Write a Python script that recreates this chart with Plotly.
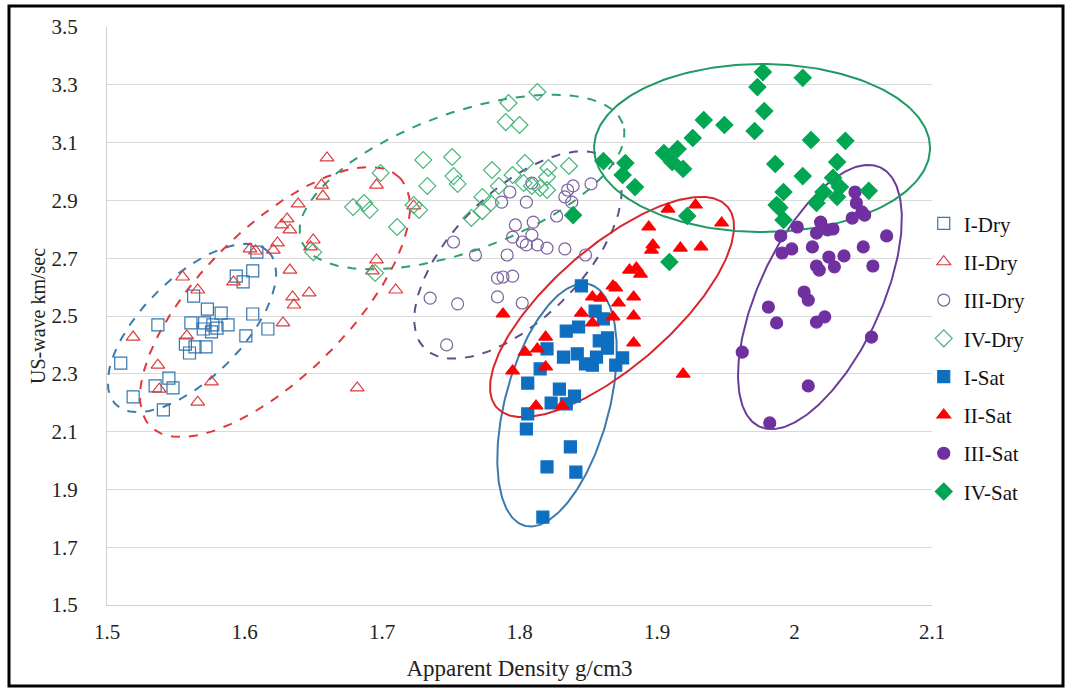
import numpy as np
import plotly.graph_objects as go

# ---------------- data ----------------
i_dry_x = [1.609, 1.606, 1.594, 1.599, 1.563, 1.573, 1.583, 1.606, 1.537, 1.561, 1.571, 1.577, 1.588, 1.570,
           1.576, 1.580, 1.617, 1.601, 1.557, 1.564, 1.572, 1.560, 1.510, 1.545, 1.535, 1.548, 1.519, 1.541]
i_dry_y = [2.721, 2.656, 2.638, 2.618, 2.569, 2.524, 2.510, 2.507, 2.469, 2.476, 2.476, 2.469, 2.469, 2.455,
           2.445, 2.458, 2.455, 2.431, 2.403, 2.393, 2.393, 2.372, 2.337, 2.285, 2.258, 2.251, 2.220, 2.175]

ii_dry_x = [1.660, 1.656, 1.657, 1.696, 1.639, 1.631, 1.627, 1.633, 1.624, 1.621, 1.604, 1.608, 1.650, 1.648,
            1.633, 1.647, 1.635, 1.636, 1.592, 1.555, 1.566, 1.628, 1.558, 1.519, 1.537, 1.538, 1.576, 1.566,
            1.696, 1.693, 1.710, 1.682, 1.723]
ii_dry_y = [3.047, 2.953, 2.915, 2.953, 2.888, 2.836, 2.815, 2.798, 2.753, 2.728, 2.732, 2.725, 2.763, 2.739,
            2.659, 2.580, 2.566, 2.538, 2.618, 2.635, 2.590, 2.476, 2.431, 2.427, 2.330, 2.247, 2.272, 2.202,
            2.694, 2.656, 2.590, 2.251, 2.881]

iii_dry_x = [1.752, 1.768, 1.735, 1.755, 1.747, 1.839, 1.852, 1.833, 1.838, 1.835, 1.809, 1.805, 1.793, 1.787,
             1.810, 1.797, 1.795, 1.802, 1.809, 1.805, 1.813, 1.820, 1.827, 1.833, 1.848, 1.791, 1.788, 1.795,
             1.784, 1.784, 1.802]
iii_dry_y = [2.756, 2.711, 2.562, 2.542, 2.400, 2.950, 2.957, 2.912, 2.894, 2.936, 2.960, 2.894, 2.929, 2.894,
             2.825, 2.815, 2.773, 2.756, 2.780, 2.746, 2.746, 2.735, 2.846, 2.732, 2.711, 2.711, 2.635, 2.638,
             2.631, 2.566, 2.545]

iv_dry_x = [1.813, 1.792, 1.790, 1.800, 1.730, 1.751, 1.752, 1.755, 1.733, 1.780, 1.773, 1.679, 1.687, 1.691,
            1.699, 1.711, 1.723, 1.727, 1.765, 1.773, 1.650, 1.695, 1.804, 1.795, 1.785, 1.779, 1.821, 1.820,
            1.836, 1.803, 1.815, 1.820, 1.809]
iv_dry_y = [3.275, 3.237, 3.171, 3.161, 3.040, 3.050, 2.984, 2.957, 2.950, 3.005, 2.912, 2.877, 2.891, 2.867,
            2.995, 2.808, 2.884, 2.867, 2.839, 2.863, 2.721, 2.649, 3.029, 2.988, 2.950, 2.891, 3.012, 2.981,
            3.019, 2.960, 2.943, 2.936, 2.950]

i_sat_x = [1.845, 1.855, 1.861, 1.843, 1.834, 1.820, 1.858, 1.864, 1.864, 1.832, 1.842, 1.848, 1.853, 1.856,
           1.870, 1.875, 1.815, 1.806, 1.829, 1.840, 1.823, 1.834, 1.806, 1.805, 1.837, 1.820, 1.841, 1.817]
i_sat_y = [2.604, 2.517, 2.490, 2.462, 2.448, 2.386, 2.414, 2.424, 2.389, 2.358, 2.369, 2.334, 2.330, 2.358,
           2.330, 2.355, 2.317, 2.268, 2.247, 2.223, 2.199, 2.196, 2.161, 2.109, 2.047, 1.978, 1.960, 1.804]

ii_sat_x = [1.908, 1.928, 1.947, 1.894, 1.897, 1.896, 1.917, 1.932, 1.880, 1.885, 1.888, 1.868, 1.870, 1.853,
            1.859, 1.872, 1.883, 1.868, 1.883, 1.853, 1.845, 1.883, 1.919, 1.788, 1.819, 1.804, 1.813, 1.819,
            1.795, 1.812, 1.831]
ii_sat_y = [2.870, 2.884, 2.822, 2.808, 2.746, 2.728, 2.735, 2.739, 2.659, 2.666, 2.645, 2.604, 2.597, 2.566,
            2.562, 2.545, 2.566, 2.497, 2.500, 2.476, 2.510, 2.407, 2.299, 2.507, 2.427, 2.375, 2.386, 2.324,
            2.310, 2.189, 2.189]

iii_sat_x = [2.044, 2.045, 2.049, 2.051, 2.042, 2.019, 2.016, 2.024, 2.028, 2.002, 1.990, 1.991, 1.998, 2.013,
             2.025, 2.036, 2.050, 2.067, 2.016, 2.018, 2.029, 2.057, 2.007, 2.010, 1.981, 1.987, 2.016, 2.022,
             2.056, 1.962, 2.010, 1.982]
iii_sat_y = [2.929, 2.891, 2.860, 2.849, 2.839, 2.825, 2.787, 2.798, 2.801, 2.808, 2.777, 2.718, 2.732, 2.739,
             2.704, 2.708, 2.739, 2.777, 2.673, 2.659, 2.670, 2.673, 2.583, 2.555, 2.531, 2.476, 2.479, 2.497,
             2.427, 2.375, 2.258, 2.130]

iv_sat_x = [1.977, 2.006, 1.973, 1.978, 1.971, 1.934, 1.949, 1.926, 1.915, 1.905, 1.911, 1.919, 1.861, 1.877,
            1.875, 1.884, 2.012, 2.037, 1.986, 2.006, 2.031, 2.028, 2.033, 2.021, 1.992, 1.987, 2.016, 2.031,
            2.054, 1.992, 1.922, 1.839, 1.989, 1.909]
iv_sat_y = [3.344, 3.324, 3.292, 3.209, 3.140, 3.178, 3.161, 3.116, 3.078, 3.064, 3.033, 3.009, 3.036, 3.029,
            2.988, 2.946, 3.109, 3.106, 3.026, 2.984, 3.033, 2.978, 2.946, 2.929, 2.929, 2.884, 2.891, 2.912,
            2.933, 2.832, 2.846, 2.849, 2.875, 2.687]

series_names = ["I-Dry", "II-Dry", "III-Dry", "IV-Dry", "I-Sat", "II-Sat", "III-Sat", "IV-Sat"]

# ---------------- styling ----------------
FONT = "Liberation Serif, Times New Roman, serif"
X_RANGE = [1.5, 2.1]
Y_RANGE = [1.5, 3.5]
PLOT_W, PLOT_H = 825, 578   # plot-area size in px (for ellipse aspect)

series = [
    (i_dry_x, i_dry_y, "square-open", "#3576AE", 12),
    (ii_dry_x, ii_dry_y, "triangle-up-open", "#DD3B3B", 12),
    (iii_dry_x, iii_dry_y, "circle-open", "#7A62A0", 12),
    (iv_dry_x, iv_dry_y, "diamond-open", "#45B67A", 13),
    (i_sat_x, i_sat_y, "square", "#0E6FC0", 12),
    (ii_sat_x, ii_sat_y, "triangle-up", "#FF0000", 12),
    (iii_sat_x, iii_sat_y, "circle", "#7030A0", 12),
    (iv_sat_x, iv_sat_y, "diamond", "#00A651", 13),
]

# cluster ellipses: center (data), semi-axes (px), rotation (deg), color, dash
ellipses = [
    ((1.5618, 2.4585), 108, 50, 45, "#3A7AAE", "dash"),
    ((1.6222, 2.5484), 176, 74, 45, "#E0383A", "dash"),
    ((1.7989, 2.7111), 132, 64, 45, "#5E5088", "dash"),
    ((1.7582, 2.9637), 171, 69, 20, "#2F9E70", "dash"),
    ((1.8273, 2.1920), 125, 52, 75, "#3A7AAE", "solid"),
    ((1.8673, 2.5311), 153, 60, 41, "#D9262B", "solid"),
    ((2.0185, 2.5657), 143, 61, 65, "#6A3D9A", "solid"),
    ((1.9764, 3.0813), 168, 84, 0, "#1E9A62", "solid"),
]

fig = go.Figure()

sx = PLOT_W / (X_RANGE[1] - X_RANGE[0])
sy = PLOT_H / (Y_RANGE[1] - Y_RANGE[0])
t = np.linspace(0, 2 * np.pi, 241)
for (cx, cy), a, b, ang, col, dash in ellipses:
    th = np.deg2rad(ang)
    px = a * np.cos(t) * np.cos(th) - b * np.sin(t) * np.sin(th)
    py = a * np.cos(t) * np.sin(th) + b * np.sin(t) * np.cos(th)
    fig.add_trace(go.Scatter(x=cx + px / sx, y=cy + py / sy, mode="lines",
                             line=dict(color=col, width=2, dash=dash),
                             showlegend=False, hoverinfo="skip"))

for name, (xs, ys, sym, col, sz) in zip(series_names, series):
    fig.add_trace(go.Scatter(x=xs, y=ys, mode="markers", name=name, legendgroup=name,
                             marker=dict(symbol=sym, size=sz, color=col,
                                         line=dict(color=col, width=1.2))))

fig.update_layout(
    width=1069, height=690,
    margin=dict(l=107, r=137, t=27, b=85),
    paper_bgcolor="white", plot_bgcolor="white",
    font=dict(family=FONT, size=20, color="#222222"),
    legend=dict(x=0.99, y=0.695, xanchor="left", yanchor="top",
                font=dict(family=FONT, size=21, color="#111111"),
                tracegroupgap=8, itemwidth=30, bgcolor="rgba(0,0,0,0)"),
    xaxis=dict(range=X_RANGE, dtick=0.1, tick0=1.5, showgrid=False, zeroline=False,
               showline=True, linecolor="#D0D0D0", linewidth=1,
               ticks="outside", ticklen=8, tickcolor="rgba(0,0,0,0)",
               tickfont=dict(family=FONT, size=21),
               title=dict(text="Apparent Density g/cm3", standoff=16,
                          font=dict(family=FONT, size=23))),
    yaxis=dict(range=Y_RANGE, dtick=0.2, tick0=1.5, tickformat=".1f",
               showgrid=True, gridcolor="#D9D9D9", gridwidth=1, zeroline=False,
               showline=True, linecolor="#D0D0D0", linewidth=1,
               ticks="outside", ticklen=24, tickcolor="rgba(0,0,0,0)",
               tickfont=dict(family=FONT, size=21),
               title=dict(text="US-wave km/sec", standoff=0,
                          font=dict(family=FONT, size=20))),
    shapes=[dict(type="rect", xref="paper", yref="paper",
                 x0=-0.1188, x1=1.1588, y0=-0.1401, y1=1.0363,
                 line=dict(color="black", width=3), fillcolor="rgba(0,0,0,0)", layer="above")],
)

fig.write_html("out.html", config={"displayModeBar": False},
               post_script="document.body.style.margin='0';document.body.style.overflow='hidden';")
